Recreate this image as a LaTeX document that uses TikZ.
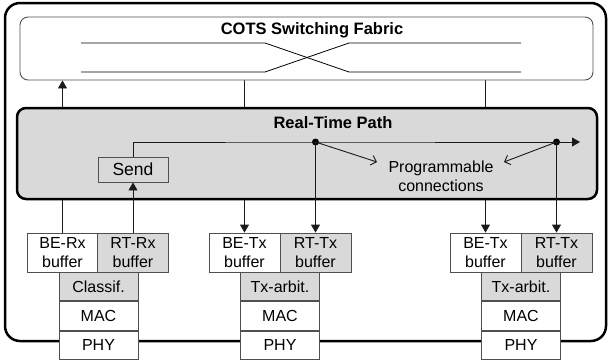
\documentclass[tikz,border=0pt]{standalone}
\usepackage{fontspec}
\setmainfont{Liberation Sans}
\usetikzlibrary{arrows.meta}
\pgfdeclarelayer{back}
\pgfsetlayers{back,main}
\definecolor{panel}{HTML}{D9D9D9}
\definecolor{edge}{HTML}{505050}
\definecolor{wire}{HTML}{1A1A1A}
\tikzset{
  every node/.style={font=\fontsize{16}{19}\selectfont},
  frame/.style={draw=black, line width=2.5pt, rounded corners=15pt,
    minimum width=601pt, minimum height=338pt, inner sep=0pt},
  fabricbox/.style={draw=edge, fill=white, line width=0.9pt, rounded corners=8pt,
    minimum width=573pt, minimum height=63pt, inner sep=0pt},
  rtbox/.style={draw=black, fill=panel, line width=2.5pt, rounded corners=9pt,
    minimum width=580pt, minimum height=91pt, inner sep=0pt},
  sendbox/.style={draw=edge, line width=0.9pt, minimum width=70pt,
    minimum height=25pt, inner sep=0pt, font=\fontsize{17.5}{20}\selectfont},
  cell/.style={draw=edge, fill=white, line width=0.9pt, inner sep=0pt, align=center},
  bufcell/.style={cell, minimum width=71pt, minimum height=39pt},
  stackcell/.style={cell, minimum width=79pt, minimum height=28.4pt},
  hl/.style={fill=panel},
  heading/.style={font=\fontsize{16.5}{19}\selectfont\bfseries},
  xline/.style={draw=black, line width=0.8pt},
  conn/.style={draw=wire, line width=0.9pt},
  tip/.style={-{Triangle[length=8pt,width=9pt]}},
  barb/.style={-{Straight Barb[length=5pt,width=10pt]}},
  junction/.style={circle, fill=black, minimum size=7pt, inner sep=0pt},
}
\begin{document}
\begin{tikzpicture}[x=1pt,y=-1pt]
\useasboundingbox (0,0) rectangle (610,362);

% outer switch boundary
\begin{pgfonlayer}{back}
  \node[frame] (frame) at (305.5,172) {};
\end{pgfonlayer}

% switching fabric with its crossbar
\node[fabricbox] (fabric) at (306.5,48.5) {};
\node[heading] (fabtitle) at (312,30) {COTS Switching Fabric};
\draw[xline] (81,43) -- (265,43) -- (349,72) -- (521,72);
\draw[xline] (81,72) -- (265,72) -- (349,43) -- (521,43);

% port 1 (receive side)
\node[bufcell] (be1) at (62.5,252.5) {BE-Rx\\buffer};
\node[bufcell, hl] (rt1) at (133,252.5) {RT-Rx\\buffer};
\node[stackcell, hl, anchor=north] (cl1) at (98.5,272) {Classif.};
\node[stackcell, anchor=north] (mac1) at (cl1.south) {MAC};
\node[stackcell, anchor=north] (phy1) at (mac1.south) {PHY};

% port 2 (transmit side)
\node[bufcell] (be2) at (244.5,252.5) {BE-Tx\\buffer};
\node[bufcell, hl] (rt2) at (315.5,252.5) {RT-Tx\\buffer};
\node[stackcell, hl, anchor=north] (cl2) at (280,272) {Tx-arbit.};
\node[stackcell, anchor=north] (mac2) at (cl2.south) {MAC};
\node[stackcell, anchor=north] (phy2) at (mac2.south) {PHY};

% port 3 (transmit side)
\node[bufcell] (be3) at (485.5,252.5) {BE-Tx\\buffer};
\node[bufcell, hl] (rt3) at (556.5,252.5) {RT-Tx\\buffer};
\node[stackcell, hl, anchor=north] (cl3) at (521,272) {Tx-arbit.};
\node[stackcell, anchor=north] (mac3) at (cl3.south) {MAC};
\node[stackcell, anchor=north] (phy3) at (mac3.south) {PHY};

% best-effort traffic passes behind the real-time path
\begin{pgfonlayer}{back}
  \draw[conn, tip] (be1.north) -- (be1.north |- fabric.south);
  \draw[conn, tip] (be2.north |- fabric.south) -- (be2.north);
  \draw[conn, tip] (be3.north |- fabric.south) -- (be3.north);
\end{pgfonlayer}

% real-time path
\node[rtbox] (rtpath) at (307,153.5) {};
\node[heading] (rttitle) at (333,123) {Real-Time Path};
\node[sendbox] (send) at (133,169.5) {Send};
\node[junction] (d1) at (315.5,142) {};
\node[junction] (d2) at (556.5,142) {};
\coordinate (rtout) at (580,142);
\node[align=center] (prog) at (441,176) {Programmable\\connections};
\coordinate (pa) at (377,162);
\coordinate (pb) at (504,162);

\draw[conn, tip] (rt1.north) -- (send.south);
\draw[conn] (send.north) |- (d1.center) -- (d2.center);
\draw[conn, tip] (d2.center) -- (rtout);
\draw[conn, tip] (d1.center) -- (rt2.north);
\draw[conn, tip] (d2.center) -- (rt3.north);
\draw[conn, barb] (d1.center) -- (pa);
\draw[conn, barb] (d2.center) -- (pb);
\end{tikzpicture}
\end{document}
